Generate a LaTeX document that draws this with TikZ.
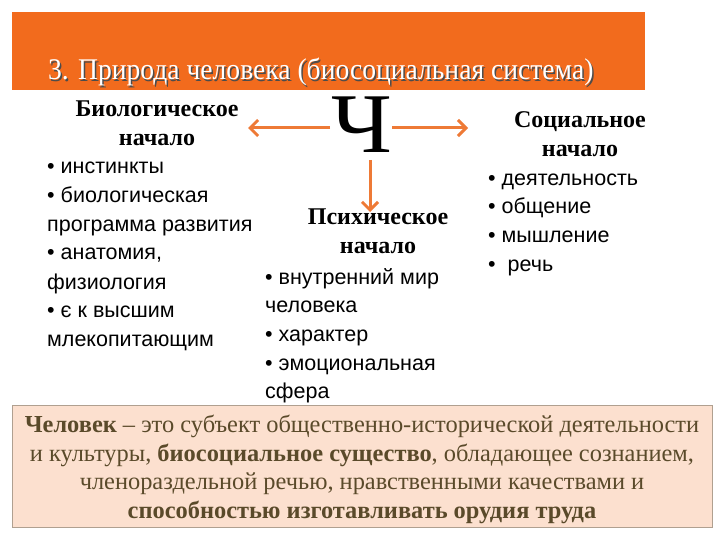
\documentclass[tikz,border=0pt]{standalone}
\usepackage{fontspec}
\setmainfont{Liberation Serif}
\setsansfont{Liberation Sans}
\usetikzlibrary{arrows.meta}
\definecolor{banner}{HTML}{F26B1D}
\definecolor{arr}{HTML}{EE7A36}
\definecolor{boxfill}{HTML}{FCE0CF}
\definecolor{boxline}{HTML}{B0A090}
\definecolor{boxtext}{HTML}{5A4A2A}
\tikzset{
 head/.style={font=\fontsize{24}{26}\selectfont\bfseries, anchor=base, inner sep=0pt},
 item/.style={font=\sffamily\fontsize{21.5}{23}\selectfont, anchor=base west, inner sep=0pt},
 conn/.style={draw=arr, line width=3pt, -{Straight Barb[length=8pt,width=16pt,line width=3pt]}},
 bline/.style={font=\fontsize{24.4}{26}\selectfont, text=boxtext, anchor=base, inner sep=0pt}
}
\begin{document}
\begin{tikzpicture}[x=1pt,y=-1pt]
\useasboundingbox (0,0) rectangle (720,540);
\fill[banner] (12,12) rectangle (645,90);
\node[anchor=base west, inner sep=0pt, text=black!70, font=\fontsize{30}{32}\selectfont, xscale=0.92] at (49.5,81.5) {3. Природа человека (биосоциальная система)};
\node[anchor=base west, inner sep=0pt, text=white, font=\fontsize{30}{32}\selectfont, xscale=0.92] (title) at (48,80) {3. Природа человека (биосоциальная система)};
\node[font=\fontsize{85}{85}\selectfont, inner sep=0pt, xscale=1.1] (ch) at (362,125) {Ч};
\coordinate (L) at (248,128);
\coordinate (R) at (468,128);
\coordinate (D) at (370,212);
\draw[conn] (330,128) -- (L);
\draw[conn] (392,128) -- (R);
\draw[conn] (370,160) -- (D);
% left
\node[head] (bio1) at (157,117) {Биологическое};
\node[head] (bio2) at (157,146) {начало};
\foreach \t/\y [count=\i] in {{• инстинкты}/174,{• биологическая}/203,{программа развития}/231,{• анатомия,}/259,{физиология}/289,{• є к высшим}/317,{млекопитающим}/346}
  \node[item] (b\i) at (47,\y) {\t};
% middle
\node[head] (ps1) at (378,225) {Психическое};
\node[head] (ps2) at (378,254) {начало};
\foreach \t/\y [count=\i] in {{• внутренний мир}/284,{человека}/312,{• характер}/341,{• эмоциональная}/370,{сфера}/398}
  \node[item] (p\i) at (265,\y) {\t};
% right
\node[head] (so1) at (580,128) {Социальное};
\node[head] (so2) at (580,157) {начало};
\foreach \t/\y [count=\i] in {{• деятельность}/186,{• общение}/214,{• мышление}/243,{•\ \ речь}/271}
  \node[item] (s\i) at (488,\y) {\t};
% box
\draw[boxline, fill=boxfill] (12,405) rectangle (712,527);
\node[bline] (l1) at (362,432) {\textbf{Человек} – это субъект общественно-исторической деятельности};
\node[bline] (l2) at (362,461) {и культуры, \textbf{биосоциальное существо}, обладающее сознанием,};
\node[bline] (l3) at (362,489) {членораздельной речью, нравственными качествами и};
\node[bline] (l4) at (362,518) {\textbf{способностью изготавливать орудия труда}};
\end{tikzpicture}
\end{document}
